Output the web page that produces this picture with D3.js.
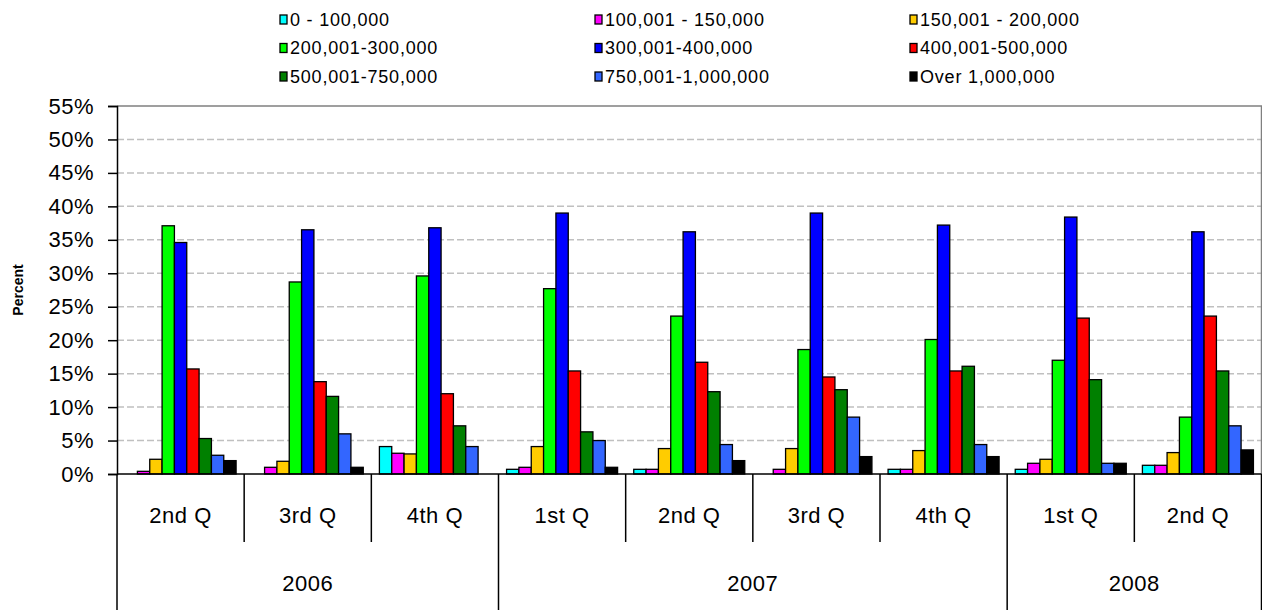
<!DOCTYPE html>
<html>
<head>
<meta charset="utf-8">
<script src="https://cdn.jsdelivr.net/npm/d3@7"></script>
<style>
  body { margin: 0; background: #fff; }
  svg { display: block; font-family: "Liberation Sans", Arial, sans-serif; }
</style>
</head>
<body>
<script>
const quarters = ['2nd Q', '3rd Q', '4th Q', '1st Q', '2nd Q', '3rd Q', '4th Q', '1st Q', '2nd Q']
const periodYears = ['2006', '2006', '2006', '2007', '2007', '2007', '2007', '2008', '2008']
const seriesNames = [
    '0 - 100,000', '100,001 - 150,000', '150,001 - 200,000',
    '200,001-300,000', '300,001-400,000', '400,001-500,000',
    '500,001-750,000', '750,001-1,000,000', 'Over 1,000,000'
]
const seriesColors = ['#00ffff', '#ff00ff', '#ffcc00', '#00ff00', '#0000ff', '#ff0000', '#008000', '#3366ff', '#000000']

const s0to100k = [0, 0, 4.1, 0.7, 0.7, 0, 0.7, 0.7, 1.3]
const s100to150k = [0.4, 1.0, 3.1, 1.0, 0.7, 0.7, 0.7, 1.6, 1.3]
const s150to200k = [2.2, 1.9, 3.0, 4.1, 3.8, 3.8, 3.5, 2.2, 3.2]
const s200to300k = [37.1, 28.7, 29.6, 27.7, 23.6, 18.6, 20.1, 17.0, 8.5]
const s300to400k = [34.6, 36.5, 36.8, 39.0, 36.2, 39.0, 37.2, 38.4, 36.2]
const s400to500k = [15.7, 13.8, 12.0, 15.4, 16.7, 14.5, 15.4, 23.3, 23.6]
const s500to750k = [5.3, 11.6, 7.2, 6.3, 12.3, 12.6, 16.1, 14.1, 15.4]
const s750to1m = [2.8, 6.0, 4.1, 5.0, 4.4, 8.5, 4.4, 1.6, 7.2]
const sOver1m = [2.0, 1.0, 0, 1.0, 2.0, 2.6, 2.6, 1.6, 3.6]
const seriesValues = [s0to100k, s100to150k, s150to200k, s200to300k, s300to400k, s400to500k, s500to750k, s750to1m, sOver1m]

const yTicks = [0, 5, 10, 15, 20, 25, 30, 35, 40, 45, 50, 55]

const W = 1262, H = 610
const plotLeft = 117, plotRight = 1261.5, plotTop = 106, plotBottom = 474

const svg = d3.select('body').append('svg')
    .attr('width', W)
    .attr('height', H)

const periods = d3.range(quarters.length)
const x0 = d3.scaleBand().domain(periods).range([plotLeft, plotRight]).padding(0)
const gap = x0.bandwidth() * 0.0635
const x1 = d3.scaleBand().domain(d3.range(seriesNames.length)).range([gap, x0.bandwidth() - gap]).padding(0)
const y = d3.scaleLinear().domain([0, 55]).range([plotBottom, plotTop])

// gridlines
svg.append('g')
    .selectAll('line')
    .data(yTicks.filter(t => t > 0 && t < 55))
    .join('line')
    .attr('x1', plotLeft).attr('x2', plotRight)
    .attr('y1', d => y(d)).attr('y2', d => y(d))
    .attr('stroke', '#c0c0c0')
    .attr('stroke-width', 1.5)
    .attr('stroke-dasharray', '7,3')

// plot border top/right
svg.append('path')
    .attr('d', `M${plotLeft},${y(55)}H${plotRight}V${plotBottom}`)
    .attr('fill', 'none')
    .attr('stroke', '#808080')
    .attr('stroke-width', 1.5)

// bars
const rows = []
seriesValues.forEach((vals, si) => {
    vals.forEach((v, pi) => {
        if (v > 0) rows.push({ si, pi, v })
    })
})
svg.append('g')
    .selectAll('rect')
    .data(rows)
    .join('rect')
    .attr('x', d => x0(d.pi) + x1(d.si))
    .attr('y', d => y(d.v))
    .attr('width', x1.bandwidth())
    .attr('height', d => y(0) - y(d.v))
    .attr('fill', d => seriesColors[d.si])
    .attr('stroke', '#000')
    .attr('stroke-width', 1.3)

// y axis
const yAxis = svg.append('g')
    .attr('transform', `translate(${plotLeft},0)`)
    .call(d3.axisLeft(y).tickValues(yTicks).tickSize(9).tickPadding(14).tickFormat(d => d + '%'))
yAxis.select('.domain').attr('stroke', '#000').attr('stroke-width', 1.5)
yAxis.selectAll('.tick line').attr('stroke', '#000').attr('stroke-width', 1.5)
yAxis.selectAll('.tick text')
    .attr('font-size', 22)
    .attr('letter-spacing', 0.5)
    .attr('fill', '#000')
    .attr('font-family', '"Liberation Sans", Arial, sans-serif')

svg.append('text')
    .attr('transform', `translate(23,${(plotTop + plotBottom) / 2}) rotate(-90)`)
    .attr('text-anchor', 'middle')
    .attr('font-size', 14)
    .attr('font-weight', 'bold')
    .text('Percent')

// x axis (two level)
svg.append('line')
    .attr('x1', plotLeft).attr('x2', plotRight)
    .attr('y1', plotBottom).attr('y2', plotBottom)
    .attr('stroke', '#000').attr('stroke-width', 1.5)

const boundaries = d3.range(quarters.length + 1)
svg.append('g')
    .selectAll('line')
    .data(boundaries)
    .join('line')
    .attr('x1', i => i < quarters.length ? x0(i) : plotRight)
    .attr('x2', i => i < quarters.length ? x0(i) : plotRight)
    .attr('y1', plotBottom)
    .attr('y2', i => (i === 0 || i === quarters.length || periodYears[i] !== periodYears[i - 1]) ? H : 542)
    .attr('stroke', '#000')
    .attr('stroke-width', 1.5)

svg.append('g')
    .selectAll('text')
    .data(quarters)
    .join('text')
    .attr('x', (d, i) => x0(i) + x0.bandwidth() / 2)
    .attr('y', 523)
    .attr('text-anchor', 'middle')
    .attr('font-size', 22)
    .attr('letter-spacing', 0.5)
    .text(d => d)

const yearGroups = d3.groups(periods, i => periodYears[i])
svg.append('g')
    .selectAll('text')
    .data(yearGroups)
    .join('text')
    .attr('x', d => (x0(d[1][0]) + x0(d[1][d[1].length - 1]) + x0.bandwidth()) / 2)
    .attr('y', 591)
    .attr('text-anchor', 'middle')
    .attr('font-size', 22)
    .attr('letter-spacing', 0.5)
    .text(d => d[0])

// legend
const legend = svg.append('g')
const legItems = legend.selectAll('g')
    .data(seriesNames)
    .join('g')
    .attr('transform', (d, i) => `translate(${280 + (i % 3) * 315},${19 + Math.floor(i / 3) * 28.5})`)
legItems.append('rect')
    .attr('x', 0).attr('y', -4)
    .attr('width', 7).attr('height', 9)
    .attr('fill', (d, i) => seriesColors[i])
    .attr('stroke', '#000')
    .attr('stroke-width', 1.3)
legItems.append('text')
    .attr('x', 10)
    .attr('y', 6.5)
    .attr('font-size', 18)
    .attr('letter-spacing', 0.8)
    .text(d => d)
</script>
</body>
</html>
